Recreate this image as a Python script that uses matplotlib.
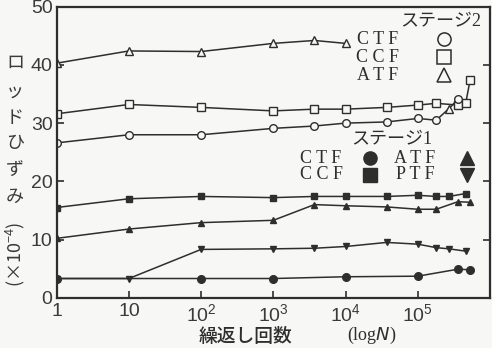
import numpy as np
import matplotlib
matplotlib.use("Agg")
import matplotlib.pyplot as plt

plt.rcParams['font.family'] = ['Liberation Sans', 'Noto Sans CJK JP']
plt.rcParams['mathtext.default'] = 'regular'

# stage 2 (open markers)
n_atf2 = [1, 10, 100, 1e3, 3.7e3, 1e4]
v_atf2 = [40.3, 42.4, 42.3, 43.7, 44.2, 43.7]
n_ccf2 = [1, 10, 100, 1e3, 3.7e3, 1e4, 3.7e4, 1e5, 1.8e5, 3.6e5, 4.6e5, 5.3e5]
v_ccf2 = [31.6, 33.2, 32.7, 32.1, 32.4, 32.4, 32.7, 33.1, 33.4, 33.1, 33.4, 37.4]
n_ctf2 = [1, 10, 100, 1e3, 3.7e3, 1e4, 3.7e4, 1e5, 1.8e5, 2.7e5, 3.6e5]
v_ctf2 = [26.6, 28.0, 28.0, 29.1, 29.5, 30.0, 30.2, 30.8, 30.5, 32.5, 34.1]
tri_idx = 9  # this point carries a triangle mark

# stage 1 (filled markers)
n_ccf1 = [1, 10, 100, 1e3, 3.7e3, 1e4, 3.7e4, 1e5, 1.8e5, 2.7e5, 4.6e5]
v_ccf1 = [15.5, 17.0, 17.4, 17.2, 17.4, 17.4, 17.4, 17.6, 17.4, 17.4, 17.9]
n_atf1 = [1, 10, 100, 1e3, 3.7e3, 1e4, 3.7e4, 1e5, 1.8e5, 3.6e5, 5.3e5]
v_atf1 = [10.2, 11.8, 12.9, 13.3, 16.0, 15.8, 15.6, 15.2, 15.2, 16.5, 16.4]
n_ptf1 = [1, 10, 100, 1e3, 3.7e3, 1e4, 3.7e4, 1e5, 1.8e5, 2.7e5, 4.6e5]
v_ptf1 = [3.3, 3.3, 8.3, 8.4, 8.5, 8.8, 9.5, 9.2, 8.6, 8.4, 8.0]
n_ctf1 = [1, 100, 1e3, 1e4, 1e5, 3.6e5, 5.3e5]
v_ctf1 = [3.3, 3.3, 3.3, 3.6, 3.7, 4.9, 4.8]

xticks = [1, 10, 100, 1e3, 1e4, 1e5]
xticklabels = ['1', '10', '10$^2$', '10$^3$', '10$^4$', '10$^5$']

ink = '#2e2e2e'
bg = '#f7f7f5'

fig = plt.figure(figsize=(4.92, 3.48), dpi=100, facecolor=bg)
ax = fig.add_axes([0.1152, 0.1445, 0.8808, 0.8362], facecolor=bg)

lw = 1.1
open_kw = dict(color=ink, lw=lw, mfc=bg, mec=ink, mew=1.0)
fill_kw = dict(color=ink, lw=lw, mfc=ink, mec=ink)

ax.plot(n_atf2, v_atf2, marker='^', ms=5.5, **open_kw)
ax.plot(n_ccf2, v_ccf2, marker='s', ms=5.5, **open_kw)
keep = [i for i in range(len(n_ctf2)) if i != tri_idx]
ax.plot(n_ctf2, v_ctf2, marker='o', ms=5.5, markevery=keep, **open_kw)
ax.plot(n_ctf2[tri_idx], v_ctf2[tri_idx], marker='^', ms=5.5, ls='none',
        mfc=bg, mec=ink, mew=1.0)

ax.plot(n_ccf1, v_ccf1, marker='s', ms=5, **fill_kw)
ax.plot(n_atf1, v_atf1, marker='^', ms=5, **fill_kw)
ax.plot(n_ptf1, v_ptf1, marker='v', ms=5, **fill_kw)
ax.plot(n_ctf1, v_ctf1, marker='o', ms=5.5, **fill_kw)

ax.set_xscale('log')
ax.set_xlim(1, 1e6)
ax.set_ylim(0, 50)
ax.set_xticks(xticks)
ax.set_xticklabels(xticklabels)
ax.xaxis.set_minor_locator(matplotlib.ticker.NullLocator())
ax.set_yticks([0, 10, 20, 30, 40, 50])
ax.tick_params(axis='both', direction='in', length=5, width=1.2, colors=ink,
               labelsize=14, labelcolor='#3a3a3a')
ax.tick_params(axis='y', right=True, pad=3)
ax.tick_params(axis='x', pad=4)
for s in ax.spines.values():
    s.set_linewidth(1.6)
    s.set_color(ink)

# legend blocks
serif = ['Liberation Serif', 'Noto Sans CJK JP']
tkw = dict(transform=ax.transAxes, ha='center', va='center', color=ink,
           fontsize=13, family=serif)
ax.text(0.887, 0.947, 'ステージ2', **tkw)
for y, name, m in [(0.889, 'C T F', 'o'), (0.827, 'C C F', 's'), (0.765, 'A T F', '^')]:
    ax.text(0.741, y, name, **tkw)
    ax.plot(0.894, y, marker=m, ms=9.5, mfc=bg, mec=ink, mew=1.1,
            transform=ax.transAxes, clip_on=False)

ax.text(0.774, 0.542, 'ステージ1', **tkw)
for y, left, ml, right, mr in [(0.480, 'C T F', 'o', 'A T F', '^'),
                               (0.422, 'C C F', 's', 'P T F', 'v')]:
    ax.text(0.610, y, left, **tkw)
    ax.plot(0.723, y, marker=ml, ms=9.5, color=ink, transform=ax.transAxes)
    ax.text(0.827, y, right, **tkw)
    ax.plot(0.947, y, marker=mr, ms=9.5, color=ink, transform=ax.transAxes)

# vertical y label
jp = ['Noto Sans CJK JP']
for ch, py in zip('ロッドひずみ', [63, 92, 118, 143, 170, 197]):
    fig.text(15 / 492, 1 - py / 348, ch, ha='center', va='center',
             fontsize=13, color='#3a3a3a', family=jp)
fig.text(15 / 492, 1 - 254 / 348, '(×10$^{-4}$)', ha='center', va='center',
         rotation=90, fontsize=13, color='#3a3a3a', family=jp)

# x label
fig.text(245 / 492, 1 - 336 / 348, '繰返し回数', ha='center', va='center',
         fontsize=13.5, color=ink, family=jp, fontweight='medium')
fig.text(372 / 492, 1 - 335 / 348, '(log$\\it{N}$)', ha='center', va='center',
         fontsize=13, color=ink, family=serif)

fig.savefig('out.png', dpi=100, facecolor=bg)
